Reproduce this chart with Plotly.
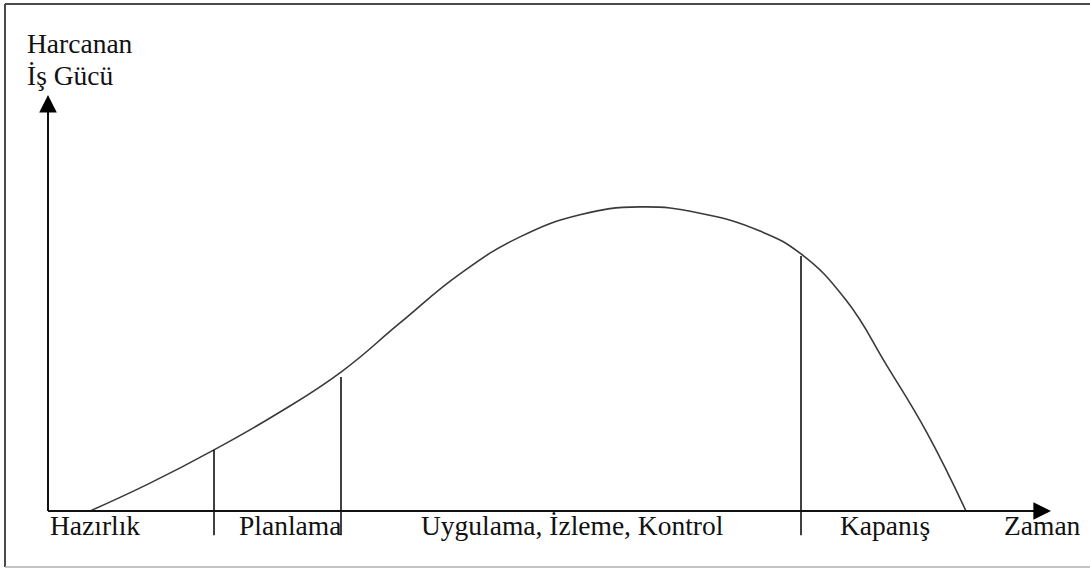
import plotly.graph_objects as go

# ---- data (abstract units: time 0..100, effort 0..100) ----
curve_time = [4.2, 10.2, 16.6, 23.2, 29.3, 35.2, 41.2, 47.2, 53.2, 59.2, 65.2,
              71.2, 75.3, 79.8, 83.9, 87.9, 91.8]
curve_effort = [0.0, 6.7, 14.7, 23.8, 33.4, 45.2, 57.0, 65.9, 71.2, 73.1, 71.6,
                67.3, 61.8, 50.7, 34.9, 18.8, 0.0]

boundary_time = [16.6, 29.3, 75.3]
boundary_top = [14.7, 32.2, 61.3]
boundary_bottom = -5.8

phase_labels = ["Hazırlık", "Planlama", "Uygulama, İzleme, Kontrol", "Kapanış"]
phase_label_x = [0.0, 18.9, 37.1, 79.0]

y_title = ["Harcanan", "İş Gücü"]
x_title = "Zaman"
axis_x_end = 100.3
axis_y_end = 100.0

FONT = "Liberation Serif, Times New Roman, serif"
FS = 27.5
TXT = "#111111"

fig = go.Figure()

# curve
fig.add_trace(go.Scatter(x=curve_time, y=curve_effort, mode="lines",
                         line=dict(color="#3a3a3a", width=1.6, shape="spline", smoothing=1.3),
                         hoverinfo="skip", showlegend=False))

# phase boundaries
for t, top in zip(boundary_time, boundary_top):
    fig.add_trace(go.Scatter(x=[t, t], y=[boundary_bottom, top], mode="lines",
                             line=dict(color="#111111", width=1.6),
                             hoverinfo="skip", showlegend=False))

# axes with arrows
fig.add_trace(go.Scatter(x=[0, 0], y=[0, axis_y_end - 3], mode="lines",
                         line=dict(color="#111111", width=2), hoverinfo="skip", showlegend=False))
fig.add_trace(go.Scatter(x=[0, axis_x_end - 1.5], y=[0, 0], mode="lines",
                         line=dict(color="#111111", width=2), hoverinfo="skip", showlegend=False))

annotations = []
annotations.append(dict(x=0, y=axis_y_end, ax=0, ay=axis_y_end - 5, xref="x", yref="y",
                        axref="x", ayref="y", text="", showarrow=True, arrowhead=2,
                        arrowsize=2.2, arrowwidth=1.6, arrowcolor="#000000"))
annotations.append(dict(x=axis_x_end, y=0, ax=axis_x_end - 2, ay=0, xref="x", yref="y",
                        axref="x", ayref="y", text="", showarrow=True, arrowhead=2,
                        arrowsize=2.2, arrowwidth=1.6, arrowcolor="#000000"))

for lbl, x in zip(phase_labels, phase_label_x):
    annotations.append(dict(x=x, y=-3.5, xref="x", yref="y", text=lbl, showarrow=False,
                            xanchor="left", yanchor="middle",
                            font=dict(family=FONT, size=FS, color=TXT)))
annotations.append(dict(x=95.4, y=-3.5, xref="x", yref="y", text=x_title, showarrow=False,
                        xanchor="left", yanchor="middle",
                        font=dict(family=FONT, size=FS, color=TXT)))
for lbl, y in zip(y_title, [112.4, 104.7]):
    annotations.append(dict(x=-2.3, y=y, xref="x", yref="y", text=lbl, showarrow=False,
                            xanchor="left", yanchor="middle",
                            font=dict(family=FONT, size=FS, color=TXT)))

W, H = 1090, 569
shapes = [
    dict(type="line", xref="paper", yref="paper", x0=5 / W, x1=1, y0=1 - 4 / H, y1=1 - 4 / H,
         line=dict(color="#4a4a4a", width=2)),
    dict(type="line", xref="paper", yref="paper", x0=5 / W, x1=5 / W, y0=1 - 4 / H, y1=1 - 567 / H,
         line=dict(color="#4a4a4a", width=2)),
    dict(type="line", xref="paper", yref="paper", x0=5 / W, x1=1, y0=1 - 567 / H, y1=1 - 567 / H,
         line=dict(color="#b0b0b0", width=1.5)),
]

fig.update_layout(
    width=W, height=H, margin=dict(l=0, r=0, t=0, b=0),
    paper_bgcolor="white", plot_bgcolor="white",
    xaxis=dict(range=[-4.8, 104.2], visible=False, fixedrange=True),
    yaxis=dict(range=[-13.94, 122.84], visible=False, fixedrange=True),
    annotations=annotations, shapes=shapes, showlegend=False,
)

fig.write_html("out.html", config={"displayModeBar": False},
               post_script="document.body.style.margin='0';document.body.style.overflow='hidden';")
